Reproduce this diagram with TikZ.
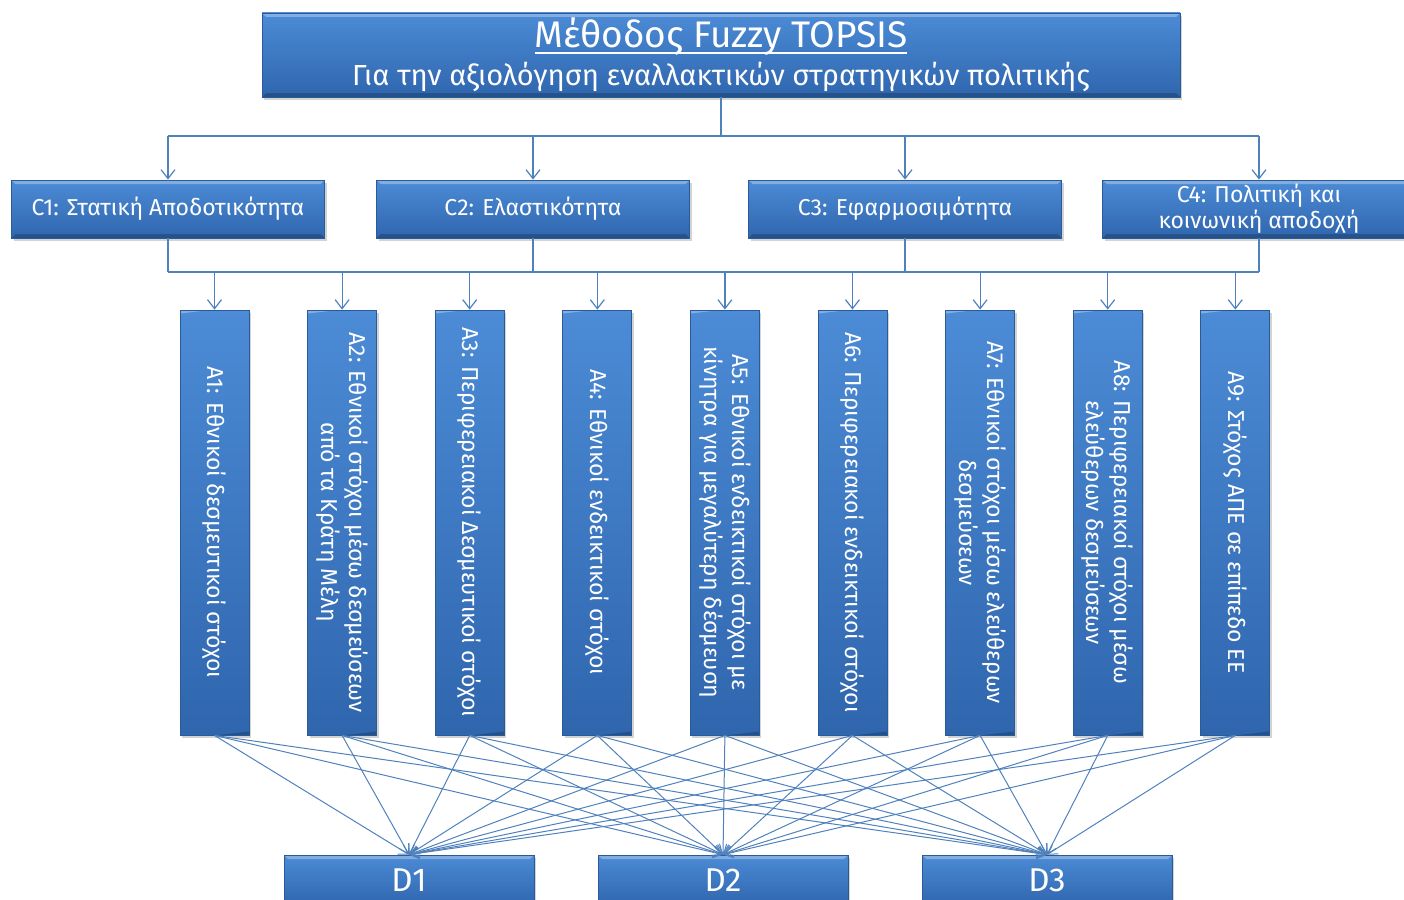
\documentclass[tikz,border=0pt]{standalone}
\usepackage{fontspec}
\setmainfont{Fira Sans}
\usetikzlibrary{arrows.meta,shadows}

\definecolor{boxtop}{HTML}{4C8BD6}
\definecolor{boxbot}{HTML}{2F66AE}
\definecolor{boxedge}{HTML}{2A5A98}
\definecolor{linkblue}{HTML}{4F81BD}

\newcommand\undertitle[1]{\setbox0\hbox{#1}\rlap{\rule[-6pt]{\wd0}{1.8pt}}#1}

\begin{document}
\begin{tikzpicture}[x=1pt,y=-1pt,
  box/.style={draw=boxedge, line width=0.8pt, top color=boxtop, bottom color=boxbot,
    text=white, align=center, inner sep=0pt,
    drop shadow={opacity=0.35, shadow xshift=2pt, shadow yshift=-3pt},
    path picture={
      \fill[white,opacity=0.3] (path picture bounding box.north west) -- (path picture bounding box.north east)
        -- ([xshift=-4pt,yshift=-4pt]path picture bounding box.north east)
        -- ([xshift=4pt,yshift=-4pt]path picture bounding box.north west) -- cycle;
      \fill[black,opacity=0.2] (path picture bounding box.south west) -- (path picture bounding box.south east)
        -- ([xshift=-4pt,yshift=4pt]path picture bounding box.south east)
        -- ([xshift=4pt,yshift=4pt]path picture bounding box.south west) -- cycle;
    }},
  crit/.style={box, minimum width=313pt, minimum height=58pt, font=\fontsize{23}{26}\selectfont},
  alt/.style={box, rotate=-90, minimum width=425pt, minimum height=69pt, font=\fontsize{23}{28}\selectfont},
  dec/.style={box, minimum width=250pt, minimum height=50pt, font=\fontsize{33}{36}\selectfont},
  link/.style={draw=linkblue, line width=1.2pt},
  arr/.style={link, -{Straight Barb[length=9pt,width=14pt]}},
  fan/.style={draw=linkblue, line width=1pt, -{Straight Barb[length=9pt,width=11pt]}}
]
\useasboundingbox (0,0) rectangle (1404,899);

% ---- Top: method title ----
\node[box, minimum width=918pt, minimum height=84pt, font=\fontsize{29}{32}\selectfont] (title) at (721,55)
  {{\fontsize{37}{38}\selectfont\undertitle{Μέθοδος Fuzzy TOPSIS}}\\[6pt]
   Για την αξιολόγηση εναλλακτικών στρατηγικών πολιτικής};

% ---- Criteria ----
\node[crit] (c1) at (168,209)  {C1: Στατική Αποδοτικότητα};
\node[crit] (c2) at (533,209)  {C2: Ελαστικότητα};
\node[crit] (c3) at (905,209)  {C3: Εφαρμοσιμότητα};
\node[crit] (c4) at (1259,209) {C4: Πολιτική και\\κοινωνική αποδοχή};

% ---- Alternatives (vertical boxes) ----
\foreach \i/\txt in {
    1/{A1: Εθνικοί δεσμευτικοί στόχοι},
    2/{A2: Εθνικοί στόχοι μέσω δεσμεύσεων\\από τα Κράτη Μέλη},
    3/{A3: Περιφερειακοί Δεσμευτικοί στόχοι},
    4/{A4: Εθνικοί ενδεικτικοί στόχοι},
    5/{A5: Εθνικοί ενδεικτικοί στόχοι με\\κίνητρα για μεγαλύτερη δέσμευση},
    6/{A6: Περιφερειακοί ενδεικτικοί στόχοι},
    7/{A7: Εθνικοί στόχοι μέσω ελεύθερων\\δεσμεύσεων},
    8/{A8: Περιφερειακοί στόχοι μέσω\\ελεύθερων δεσμεύσεων},
    9/{A9: Στόχος ΑΠΕ σε επίπεδο ΕΕ}}
  \node[alt] (a\i) at ({214.5+127.6*(\i-1)},522.5) {\txt};

% ---- Decisions ----
\node[dec] (d1) at (409,880)  {D1};
\node[dec] (d2) at (723,880)  {D2};
\node[dec] (d3) at (1047,880) {D3};

% Title -> criteria
\coordinate (bus1) at (721,136);
\draw[link] (title.south) -- (bus1);
\draw[link] (c1.north |- bus1) -- (c4.north |- bus1);
\foreach \c in {1,...,4}
  \draw[arr] (c\c.north |- bus1) -- (c\c.north);

% Criteria -> alternatives
\coordinate (bus2) at (721,272);
\foreach \c in {1,...,4}
  \draw[link] (c\c.south) -- (c\c.south |- bus2);
\draw[link] (c1.south |- bus2) -- (c4.south |- bus2);
\foreach \i in {1,...,9}
  \draw[arr] (a\i.west |- bus2) -- (a\i.west);

% Alternatives -> decisions (every pair)
\foreach \i in {1,...,9}
  \foreach \d in {1,2,3}
    \draw[fan] (a\i.east) -- (d\d.north);

\end{tikzpicture}
\end{document}
